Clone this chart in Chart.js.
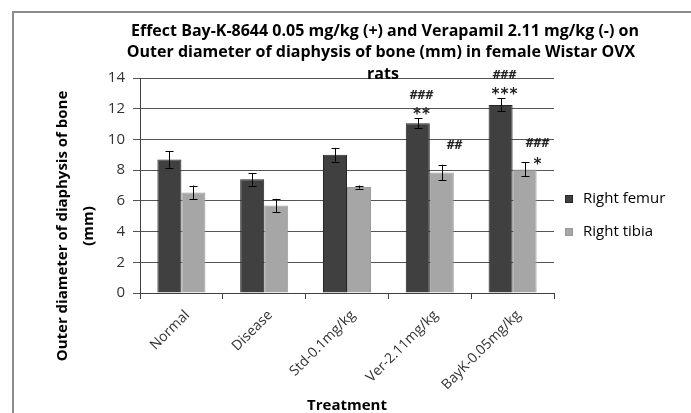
<!DOCTYPE html>
<html>
<head>
<meta charset="utf-8">
<script src="https://cdn.jsdelivr.net/npm/chart.js@4"></script>
<style>
  html, body { margin: 0; padding: 0; background: #fff; }
  canvas { display: block; }
</style>
</head>
<body>
<canvas id="chart" width="691" height="413"></canvas>
<script>
// data
const treatments = ["Normal", "Disease", "Std-0.1mg/kg", "Ver-2.11mg/kg", "BayK-0.05mg/kg"];
const femur = [8.7, 7.4, 9.0, 11.05, 12.25];
const femurErr = [0.55, 0.42, 0.45, 0.32, 0.43];
const tibia = [6.55, 5.7, 6.9, 7.85, 8.05];
const tibiaErr = [0.45, 0.43, 0.1, 0.5, 0.45];
const yTicks = [0, 2, 4, 6, 8, 10, 12, 14];
// significance marks (upper line, lower line) per bar
const femurMarks = [null, null, null, ["###", "**"], ["###", "***"]];
const tibiaMarks = [null, null, null, ["##", ""], ["###", "*"]];

const titleLines = [
  "Effect Bay-K-8644 0.05 mg/kg (+) and Verapamil 2.11 mg/kg (-) on",
  "Outer diameter of diaphysis of bone (mm) in female Wistar OVX",
  "rats"
];
const yTitle = ["Outer diameter of diaphysis of bone", "(mm)"];
const xTitle = "Treatment";

const femurColor = "#404040";
const tibiaColor = "#a6a6a6";

// error bars + marks
const extras = {
  id: "extras",
  afterDatasetsDraw(chart) {
    const ctx = chart.ctx;
    const y = chart.scales.y;
    const sets = [[femur, femurErr, femurMarks], [tibia, tibiaErr, tibiaMarks]];
    sets.forEach(([vals, errs, marks], di) => {
      const meta = chart.getDatasetMeta(di);
      meta.data.forEach((bar, i) => {
        const top = y.getPixelForValue(vals[i] + errs[i]);
        const bot = y.getPixelForValue(vals[i] - errs[i]);
        const x = Math.round(bar.x) + 0.5;
        ctx.save();
        ctx.strokeStyle = "#000";
        ctx.lineWidth = 1;
        ctx.beginPath();
        ctx.moveTo(x, top); ctx.lineTo(x, bot);
        ctx.moveTo(x - 4, Math.round(top) + 0.5); ctx.lineTo(x + 4, Math.round(top) + 0.5);
        ctx.moveTo(x - 4, Math.round(bot) + 0.5); ctx.lineTo(x + 4, Math.round(bot) + 0.5);
        ctx.stroke();
        const m = marks[i];
        if (m) {
          ctx.fillStyle = "#222";
          ctx.textAlign = "center";
          ctx.textBaseline = "middle";
          const dx = di === 0 ? 3 : 12;
          ctx.font = "bold 13px 'DejaVu Sans Mono'";
          ctx.fillText(m[0], x + dx, top - (di === 0 ? 23 : 19));
          ctx.font = "bold 15px 'DejaVu Sans Mono'";
          ctx.fillText(m[1], x + dx, top - (di === 0 ? 3 : -3));
        }
        ctx.restore();
      });
    });
  },
  afterDraw(chart) {
    const ctx = chart.ctx;
    ctx.save();
    // frame
    ctx.strokeStyle = "#8c8c8c";
    ctx.lineWidth = 2;
    ctx.beginPath();
    ctx.moveTo(13, 413); ctx.lineTo(13, 12); ctx.lineTo(691, 12);
    ctx.stroke();

    // title
    ctx.fillStyle = "#000";
    ctx.font = "bold 16px 'Open Sans'";
    ctx.textAlign = "center";
    ctx.textBaseline = "middle";
    ctx.fillText(titleLines[0], 385, 31);
    ctx.fillText(titleLines[1], 381, 52);
    ctx.fillText(titleLines[2], 383, 74);

    // axis titles
    ctx.font = "bold 15px 'Open Sans'";
    ctx.fillText(xTitle, 347, 406);
    ctx.save();
    ctx.translate(63, 226);
    ctx.rotate(-Math.PI / 2);
    ctx.fillText(yTitle[0], 0, 0);
    ctx.fillText(yTitle[1], 0, 26);
    ctx.restore();

    // legend
    ctx.font = "15px 'Open Sans'";
    ctx.textAlign = "left";
    chart.data.datasets.forEach((ds, i) => {
      const ly = 199 + i * 33;
      ctx.fillStyle = ds.backgroundColor;
      ctx.fillRect(565, ly - 4, 8, 8);
      ctx.strokeStyle = ds.borderColor;
      ctx.lineWidth = 1;
      ctx.strokeRect(565.5, ly - 3.5, 7, 7);
      ctx.fillStyle = "#000";
      ctx.fillText(ds.label, 583, ly);
    });
    ctx.restore();
  }
};

new Chart(document.getElementById("chart"), {
  type: "bar",
  data: {
    labels: treatments,
    datasets: [
      { label: "Right femur", data: femur, backgroundColor: femurColor, borderColor: "#262626", borderWidth: 1 },
      { label: "Right tibia", data: tibia, backgroundColor: tibiaColor, borderColor: "#9a9a9a", borderWidth: 1 }
    ]
  },
  options: {
    responsive: false,
    devicePixelRatio: 1,
    animation: false,
    datasets: { bar: { categoryPercentage: 0.58, barPercentage: 1 } },
    layout: { padding: { left: 100, top: 78, right: 137, bottom: 0 } },
    plugins: { legend: { display: false }, title: { display: false }, tooltip: { enabled: false } },
    scales: {
      x: {
        afterFit(scale) { scale.height = 120; },
        grid: { drawOnChartArea: false, drawTicks: true, tickLength: 6, color: "#404040", offset: true },
        border: { color: "#404040" },
        ticks: {
          minRotation: 45, maxRotation: 45, padding: 8, labelOffset: 6,
          color: "#333", font: { family: "'Open Sans'", size: 14 }
        }
      },
      y: {
        min: 0, max: 14,
        afterFit(scale) { scale.width = 40; },
        afterBuildTicks(scale) { scale.ticks = yTicks.map(v => ({ value: v })); },
        grid: { color: "#555", tickLength: 7 },
        border: { color: "#404040" },
        ticks: { padding: 8, color: "#333", font: { family: "'Open Sans'", size: 15 } }
      }
    }
  },
  plugins: [extras]
});
</script>
</body>
</html>
